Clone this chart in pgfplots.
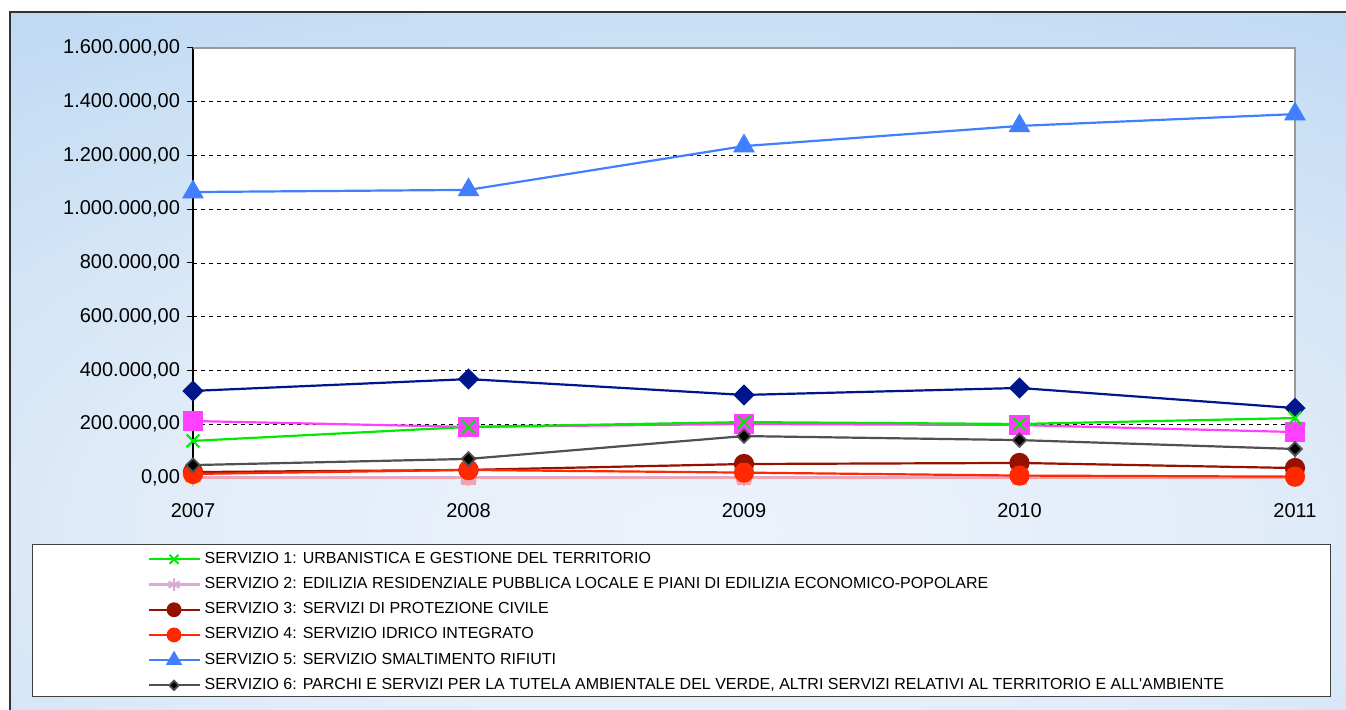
\documentclass[border=0pt]{standalone}
\usepackage{pgfplots}
\pgfplotsset{compat=1.18}
\usepackage{fontspec}
\setmainfont{Liberation Sans}
\definecolor{bgblue}{RGB}{184,214,242}
\definecolor{sgreen}{RGB}{0,235,0}
\definecolor{slav}{RGB}{215,170,215}
\definecolor{sdred}{RGB}{150,18,0}
\definecolor{sred}{RGB}{255,40,0}
\definecolor{sblue}{RGB}{64,128,255}
\definecolor{sgray}{RGB}{80,80,80}
\definecolor{snavy}{RGB}{0,22,140}
\definecolor{smag}{RGB}{255,64,255}
\definecolor{ssalmon}{RGB}{255,160,160}
\definecolor{syellow}{RGB}{255,238,170}
\pgfdeclareradialshading{glow}{\pgfpoint{0bp}{0bp}}{rgb(0bp)=(0.93,0.95,0.985); rgb(9bp)=(0.89,0.93,0.975); rgb(25bp)=(0.722,0.839,0.949); rgb(50bp)=(0.722,0.839,0.949)}
\begin{document}
\begin{tikzpicture}
\useasboundingbox (0,0) rectangle (673pt,355pt);
\fill[white] (0,0) rectangle (673pt,355pt);
\fill[bgblue] (5pt,0pt) rectangle (673pt,349pt);
\begin{scope}
\clip (5pt,0pt) rectangle (673pt,349pt);
\shade[shading=glow] (350pt,90pt) ellipse [x radius=700pt, y radius=340pt];
\end{scope}
\draw[line width=0.7pt, black!80] (5pt,0pt) -- (5pt,349pt) -- (673pt,349pt);
\draw[fill=white, draw=black!75, line width=0.5pt] (16pt,6.5pt) rectangle (665pt,82.5pt);
\begin{axis}[
  at={(96.5pt,116pt)}, anchor=south west,
  scale only axis, width=551pt, height=215pt,
  xmin=0, xmax=4, ymin=0, ymax=1600000,
  xtick={0,1,2,3,4}, xticklabels={2007,2008,2009,2010,2011},
  ytick={0,200000,400000,600000,800000,1000000,1200000,1400000,1600000},
  scaled y ticks=false,
  yticklabel style={font=\fontsize{10pt}{12pt}\selectfont,
    /pgf/number format/fixed, /pgf/number format/fixed zerofill,
    /pgf/number format/precision=2, /pgf/number format/1000 sep={.},
    /pgf/number format/use comma, /pgf/number format/assume math mode=true},
  xticklabel style={font=\fontsize{10pt}{12pt}\selectfont, yshift=-6pt},
  axis x line*=bottom, axis y line*=left,
  tick align=outside, major tick length=3pt,
  xtick style={draw=none}, ytick style={black, line width=0.5pt},
  ymajorgrids, grid style={black, dash pattern=on 2pt off 2pt, line width=0.4pt},
  axis line style={black, line width=0.6pt},
  axis background/.style={fill=white},
  clip=false,
  legend style={at={(axis description cs:-0.0417,-0.159)}, anchor=north west,
    draw=none, fill=none, inner sep=0pt, row sep=0pt, column sep=2pt,
    font=\fontsize{8pt}{9pt}\selectfont,
    nodes={inner sep=0pt, text height=8.3pt, text depth=4.3pt}},
  legend cell align=left,
  legend image code/.code={\draw[mark repeat=2,mark phase=2,#1,every mark/.append style={scale=0.7}] plot coordinates {(0pt,0pt) (12.75pt,0pt) (25.5pt,0pt)};},
]
\draw[black!40, line width=0.9pt] (rel axis cs:0,1) -- (rel axis cs:1,1) -- (rel axis cs:1,0);
% unlisted series
\addplot[forget plot, snavy, line width=1.1pt, mark=square*, mark size=3.2pt, mark options={rotate=45}] coordinates {(0,324000) (1,368000) (2,309000) (3,335000) (4,260000)};
\addplot[forget plot, smag, line width=1.1pt, mark=square*, mark size=4.5pt] coordinates {(0,212000) (1,190000) (2,201000) (3,197000) (4,171000)};
\addplot[forget plot, ssalmon, line width=1.1pt, mark=square*, mark size=3pt] coordinates {(0,0) (1,0) (2,0) (3,0) (4,0)};
\addplot[forget plot, syellow, line width=1.1pt, mark=square*, mark size=3pt] coordinates {(0,-3000)};
% listed series
\addplot[sgreen, line width=1.1pt, mark=x, mark size=4.5pt, mark options={line width=1pt}] coordinates {(0,138000) (1,190000) (2,208000) (3,201000) (4,223000)};
\addlegendentry{SERVIZIO 1: URBANISTICA E GESTIONE DEL TERRITORIO}
\addplot[slav, line width=1.1pt, mark=asterisk, mark size=4.5pt, mark options={line width=1pt}] coordinates {(0,3000) (1,3000) (2,3000) (3,3000) (4,3000)};
\addlegendentry{SERVIZIO 2: EDILIZIA RESIDENZIALE PUBBLICA LOCALE E PIANI DI EDILIZIA ECONOMICO-POPOLARE}
\addplot[sdred, line width=1.1pt, mark=*, mark size=4.5pt] coordinates {(0,22000) (1,30000) (2,52000) (3,56000) (4,37000)};
\addlegendentry{SERVIZIO 3: SERVIZI DI PROTEZIONE CIVILE}
\addplot[sred, line width=1.1pt, mark=*, mark size=4.5pt] coordinates {(0,15000) (1,30000) (2,20000) (3,9000) (4,5000)};
\addlegendentry{SERVIZIO 4: SERVIZIO IDRICO INTEGRATO}
\addplot[sblue, line width=1.1pt, mark=triangle*, mark size=5.2pt] coordinates {(0,1064000) (1,1072000) (2,1235000) (3,1310000) (4,1354000)};
\addlegendentry{SERVIZIO 5: SERVIZIO SMALTIMENTO RIFIUTI}
\addplot[sgray, line width=1.1pt, mark=square*, mark size=2.4pt, mark options={rotate=45, fill=black, draw=sgray, line width=0.9pt}] coordinates {(0,48000) (1,71000) (2,156000) (3,141000) (4,108000)};
\addlegendentry{SERVIZIO 6: PARCHI E SERVIZI PER LA TUTELA AMBIENTALE DEL VERDE, ALTRI SERVIZI RELATIVI AL TERRITORIO E ALL\textquotesingle AMBIENTE}
\end{axis}
\end{tikzpicture}
\end{document}
